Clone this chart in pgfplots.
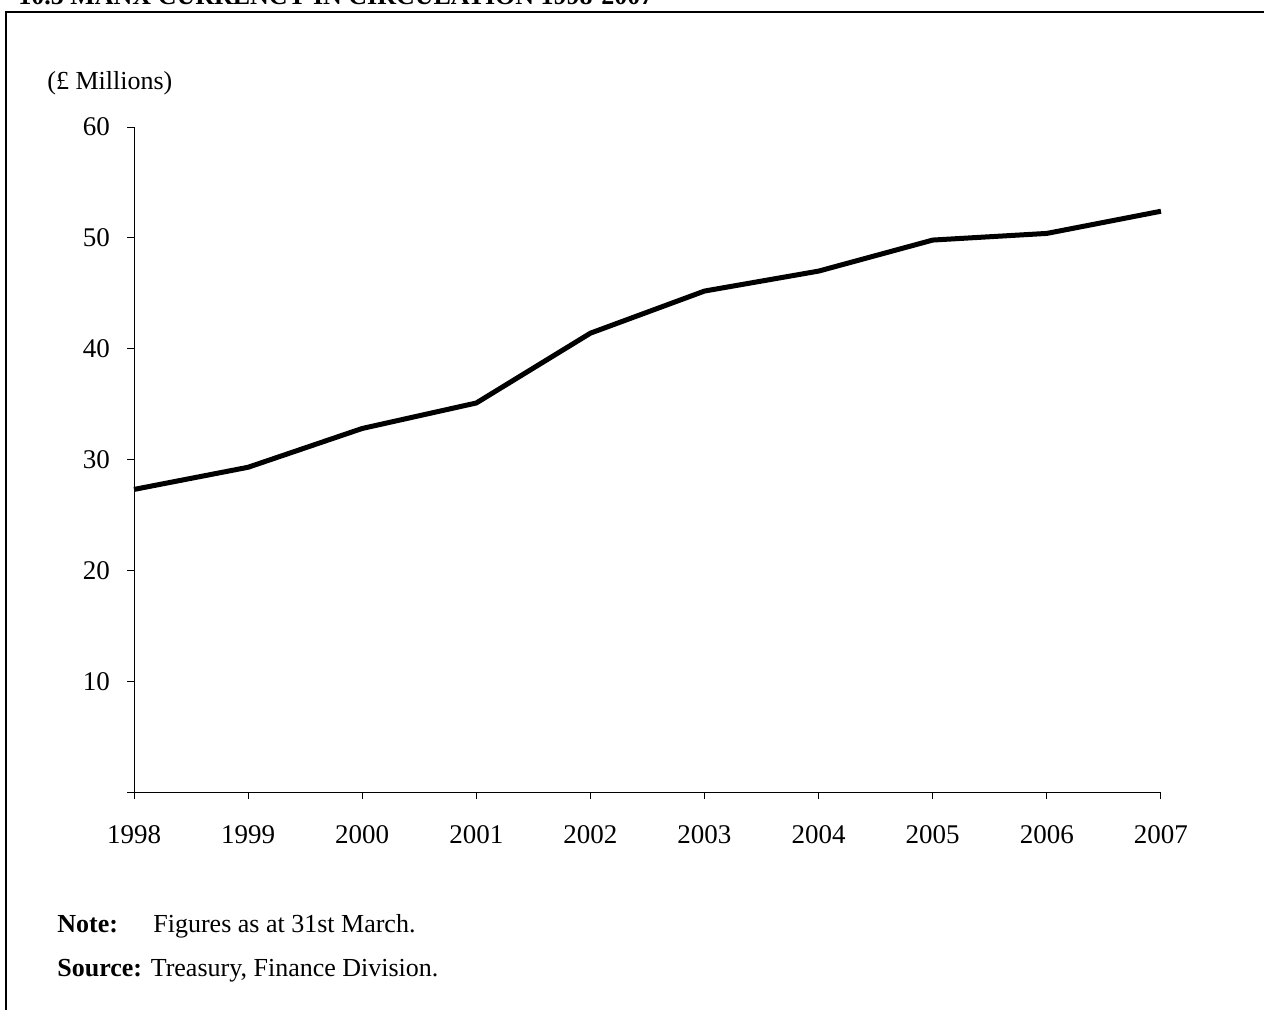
\documentclass[border=0pt]{standalone}
\usepackage{pgfplots}
\pgfplotsset{compat=1.18}
\usepackage{fontspec}
\setmainfont{Liberation Serif}
\begin{document}
\fontsize{13}{15}\selectfont
\begin{tikzpicture}
\useasboundingbox (0pt,0pt) rectangle (632pt,-505pt);
\node[anchor=base west,font=\bfseries\fontsize{13}{15}\selectfont,inner sep=0pt] at (9pt,-2.5pt) {10.5 MANX CURRENCY IN CIRCULATION 1998-2007};
\draw[line width=1.25pt] (3.1pt,-510pt) -- (3.1pt,-6pt) -- (640pt,-6pt);
\node[anchor=base west,inner sep=0pt] at (23.5pt,-45pt) {(\pounds\ Millions)};
\node[anchor=base west,inner sep=0pt] at (28.5pt,-466pt) {\textbf{Note:}};
\node[anchor=base west,inner sep=0pt] at (76.5pt,-466pt) {Figures as at 31st March.};
\node[anchor=base west,inner sep=0pt] at (28.5pt,-488pt) {\textbf{Source:} Treasury, Finance Division.};
\begin{axis}[
  at={(67pt,-396pt)}, anchor=origin,
  scale only axis, width=513.5pt, height=332.5pt,
  xmin=1998, xmax=2007, ymin=0, ymax=60,
  axis lines*=left,
  axis line style={line width=0.5pt},
  tick style={line width=0.5pt,black},
  tick align=outside,
  major tick length=3.5pt,
  xtick={1998,1999,...,2007},
  ytick={0,10,20,30,40,50,60},
  yticklabels={,10,20,30,40,50,60},
  x tick label style={/pgf/number format/1000 sep={},font=\fontsize{13.5}{15}\selectfont,yshift=-8pt,text height=9.5pt,text depth=0pt},
  y tick label style={font=\fontsize{13.5}{15}\selectfont,xshift=-4pt},
  /pgf/number format/assume math mode=true,
  clip=false,
]
\addplot[black, line width=2.5pt, line join=round] coordinates {
(1998,27.3) (1999,29.3) (2000,32.8) (2001,35.1) (2002,41.4)
(2003,45.2) (2004,47.0) (2005,49.8) (2006,50.4) (2007,52.4)
};
\end{axis}
\end{tikzpicture}
\end{document}
